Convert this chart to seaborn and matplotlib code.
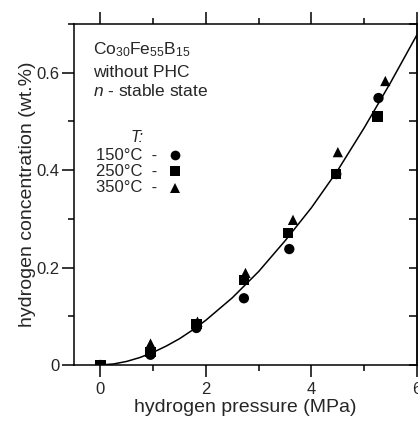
import numpy as np
import pandas as pd
import matplotlib
matplotlib.use("Agg")
import matplotlib.pyplot as plt
import seaborn as sns
from matplotlib.ticker import MultipleLocator

# ---- data ----
p_150 = [0.0, 0.95, 1.82, 2.72, 3.58, 4.47, 5.27]
c_150 = [0.0, 0.021, 0.076, 0.137, 0.238, 0.392, 0.548]

p_250 = [0.0, 0.95, 1.82, 2.72, 3.56, 4.47, 5.25]
c_250 = [0.0, 0.026, 0.084, 0.175, 0.271, 0.392, 0.510]

p_350 = [0.95, 1.84, 2.75, 3.65, 4.50, 5.40]
c_350 = [0.044, 0.089, 0.189, 0.298, 0.437, 0.583]

curve_p = [0.0, 0.25, 0.5, 0.75, 1.0, 1.25, 1.5, 1.75, 2.0, 2.5, 3.0, 3.5, 4.0, 4.5, 5.0, 5.5, 6.0, 6.1]
curve_c = [0.0, 0.0021, 0.0074, 0.0154, 0.026, 0.039, 0.054, 0.072, 0.092, 0.138, 0.192, 0.255, 0.323, 0.400, 0.487, 0.580, 0.678, 0.699]

series_labels = ["150°C", "250°C", "350°C"]
series_markers = ["o", "s", "^"]

x_ticks = [0, 2, 4, 6]
y_ticks = [0, 0.2, 0.4, 0.6]
y_tick_labels = ["0", "0.2", "0.4", "0.6"]

# ---- build table ----
df = pd.concat([
    pd.DataFrame({"p": p_150, "c": c_150, "T": series_labels[0]}),
    pd.DataFrame({"p": p_250, "c": c_250, "T": series_labels[1]}),
    pd.DataFrame({"p": p_350, "c": c_350, "T": series_labels[2]}),
], ignore_index=True)
curve = pd.DataFrame({"p": curve_p, "c": curve_c})

sns.set_theme(style="white")
plt.rcParams["font.family"] = ["Liberation Sans", "DejaVu Sans"]
plt.rcParams["mathtext.fontset"] = "custom"
plt.rcParams["mathtext.rm"] = "Liberation Sans"
plt.rcParams["mathtext.it"] = "Liberation Sans:italic"

fig = plt.figure(figsize=(4.18, 4.21), dpi=100)
ax = fig.add_axes([74 / 418, 56 / 421, 343 / 418, 341 / 421])

sns.lineplot(data=curve, x="p", y="c", ax=ax, color="black", linewidth=1.1,
             sort=False, estimator=None, zorder=2)
sns.scatterplot(data=df, x="p", y="c", style="T", markers=dict(zip(series_labels, series_markers)),
                style_order=series_labels, color="black", s=55, edgecolor="black",
                linewidth=0, ax=ax, legend=False, zorder=3)

ax.set_xlim(-0.5, 6.0)
ax.set_ylim(0, 0.7)
ax.set_xticks(x_ticks)
ax.set_xticklabels([str(t) for t in x_ticks])
ax.set_yticks(y_ticks)
ax.set_yticklabels(y_tick_labels)
ax.xaxis.set_minor_locator(MultipleLocator(1))
ax.yaxis.set_minor_locator(MultipleLocator(0.1))

for s in ax.spines.values():
    s.set_color("black")
    s.set_linewidth(1.1)
    s.set_visible(True)

ax.tick_params(axis="x", which="both", direction="out", top=True, bottom=True,
               labeltop=False, color="black", width=1.1, labelsize=12, pad=4)
ax.tick_params(axis="x", which="major", length=8.5)
ax.tick_params(axis="x", which="minor", length=4.5)
ax.tick_params(axis="y", which="both", direction="out", left=True, right=False,
               color="black", width=1.1, labelsize=12, pad=2)
ax.tick_params(axis="y", which="major", length=8.5)
ax.tick_params(axis="y", which="minor", length=4.5)

sec = ax.secondary_yaxis("right")
sec.set_yticks(y_ticks)
sec.yaxis.set_minor_locator(MultipleLocator(0.1))
sec.tick_params(axis="y", which="both", direction="in", length=6, width=1.1,
                labelright=False, color="black")
sec.spines["right"].set_linewidth(1.1)

ax.set_xlabel("hydrogen pressure (MPa)", fontsize=14, labelpad=1)
ax.set_ylabel("hydrogen concentration (wt.%)", fontsize=14, labelpad=0)

# annotation text
ax.text(0.055, 0.924, r"Co$_{30}$Fe$_{55}$B$_{15}$", transform=ax.transAxes,
        fontsize=12.5, va="center", ha="left")
ax.text(0.055, 0.859, "without PHC", transform=ax.transAxes,
        fontsize=12.5, va="center", ha="left")
ax.text(0.055, 0.803, r"$n$ - stable state", transform=ax.transAxes,
        fontsize=12.5, va="center", ha="left")

# custom legend
ax.text((137 - 74) / 343, (365 - 138) / 341, "T:", style="italic",
        transform=ax.transAxes, fontsize=11.5, va="center", ha="center")
leg_y = [155, 171.5, 188]
for lab, mk, yy in zip(series_labels, series_markers, leg_y):
    fy = (365 - yy) / 341
    ax.text((96 - 74) / 343, fy, f"{lab}  -", transform=ax.transAxes,
            fontsize=12, va="center", ha="left")
    ax.plot([(175 - 74) / 343], [fy], marker=mk, color="black", markersize=7,
            markeredgewidth=0, transform=ax.transAxes, clip_on=False)

fig.savefig("out.png", dpi=100)
